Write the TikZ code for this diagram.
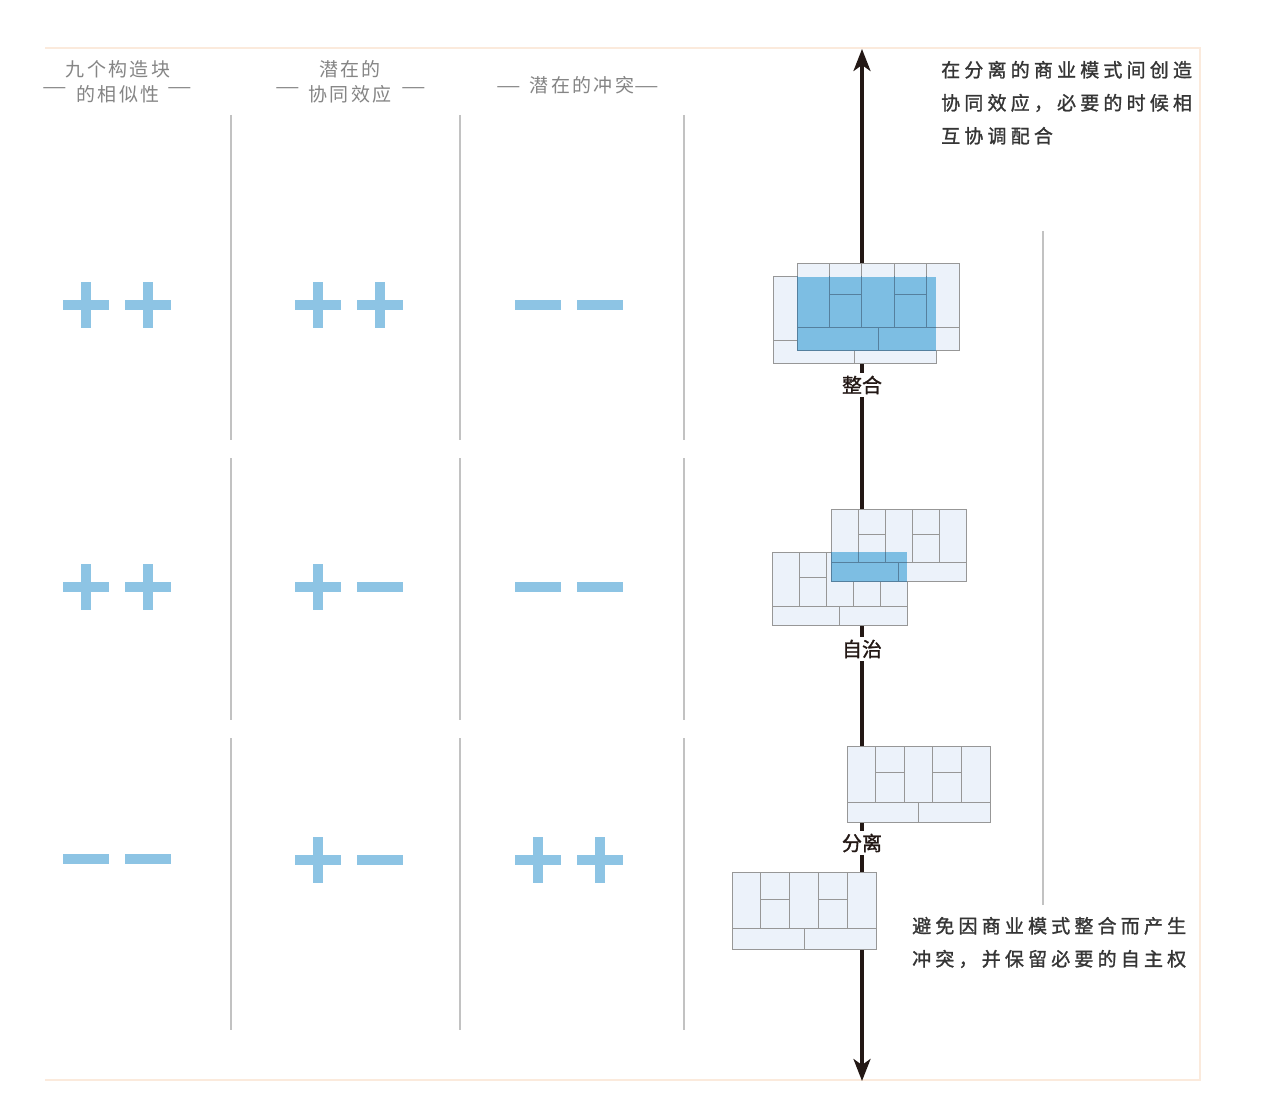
\documentclass[tikz,border=0pt]{standalone}
\usepackage{fontspec}
\setmainfont{Noto Sans CJK SC}
\newfontfamily\headfont[LetterSpace=12]{Noto Sans CJK SC}
\newfontfamily\notefont[LetterSpace=22,FakeBold=1.3]{Noto Sans CJK SC}
\newfontfamily\stagefont[FakeBold=1.3]{Noto Sans CJK SC}
\usetikzlibrary{arrows.meta}

\definecolor{signblue}{HTML}{8DC4E4}
\definecolor{mixblue}{HTML}{7DBEE3}
\definecolor{mixline}{HTML}{55809E}
\definecolor{cvfill}{HTML}{ECF2FA}
\definecolor{cvline}{HTML}{979797}
\definecolor{rulegray}{HTML}{C2C2C2}
\definecolor{framepeach}{HTML}{FBEADC}
\definecolor{ink}{HTML}{231815}
\definecolor{headgray}{HTML}{858585}
\definecolor{notegray}{HTML}{353535}

% one business model canvas: outline, five columns, two split columns, split bottom row
\newcommand\bmgrid[5][]{%
  \begin{scope}[shift={(#2,#3)}, x=#4pt, y=-#5pt, cvgrid, #1]
    \draw (0,0) rectangle (1,1);
    \draw (0,0.74) -- (1,0.74);
    \foreach \c in {0.2,0.4,0.6,0.8} {\draw (\c,0) -- (\c,0.74);}
    \draw (0.2,0.355) -- (0.4,0.355) (0.6,0.355) -- (0.8,0.355);
    \draw (0.5,0.74) -- (0.5,1);
  \end{scope}}
\newcommand\bmcanvas[5]{%
  \node[cvbox, minimum width=#4pt, minimum height=#5pt, anchor=north west] (#1) at (#2,#3) {};
  \bmgrid{#2}{#3}{#4}{#5}}
\newcommand\hdash{\scalebox{1.45}[1]{—}}

\begin{document}
\begin{tikzpicture}[x=1pt, y=-1pt,
  cvbox/.style={rectangle, fill=cvfill, draw=cvline, line width=1pt, inner sep=0pt, outer sep=0pt},
  cvgrid/.style={draw=cvline, line width=1pt},
  sep/.style={draw=rulegray, line width=1.8pt},
  head/.style={inner sep=0pt, text=headgray, font=\headfont\fontsize{19}{19}\selectfont, anchor=base},
  note/.style={inner sep=0pt, text=notegray, font=\notefont\fontsize{19}{19}\selectfont, anchor=base west},
  stage/.style={fill=white, inner sep=2.5pt, text=ink, font=\stagefont\fontsize{20}{20}\selectfont},
  axis/.style={draw=ink, line width=3.4pt, {Stealth[length=22pt,width=17pt,inset=6pt]}-{Stealth[length=22pt,width=17pt,inset=6pt]}},
  psign/.pic={\fill[signblue] (-23,-5) rectangle (23,5); \fill[signblue] (-5,-23) rectangle (5,23);},
  msign/.pic={\fill[signblue] (-23,-5) rectangle (23,5);}
]
\useasboundingbox (0,0) rectangle (1262,1102);
\fill[white] (0,0) rectangle (1262,1102);

% frame
\draw[framepeach, line width=1.5pt] (45,48) -- (1200,48) -- (1200,1080) -- (45,1080);

% column headers
\node[head] (h1a) at (118,77) {九个构造块};
\node[head] (h1b) at (118,102) {的相似性};
\node[head] (h1l) at (55,94) {\hdash};
\node[head] (h1r) at (180,94) {\hdash};
\node[head] (h2a) at (350,77) {潜在的};
\node[head] (h2b) at (350,102) {协同效应};
\node[head] (h2l) at (288,94) {\hdash};
\node[head] (h2r) at (414,94) {\hdash};
\node[head] (h3) at (582,93) {潜在的冲突};
\node[head] (h3l) at (509,93) {\hdash};
\node[head] (h3r) at (647,93) {\hdash};

% column separators
\foreach \x in {231,460,684} {
  \draw[sep] (\x,115) -- (\x,440);
  \draw[sep] (\x,458) -- (\x,720);
  \draw[sep] (\x,738) -- (\x,1030);
}

% signs: similarity, synergy, conflict
\pic at (86,305) {psign};  \pic at (148,305) {psign};
\pic at (318,305) {psign}; \pic at (380,305) {psign};
\pic at (538,305) {msign}; \pic at (600,305) {msign};

\pic at (86,587) {psign};  \pic at (148,587) {psign};
\pic at (318,587) {psign}; \pic at (380,587) {msign};
\pic at (538,587) {msign}; \pic at (600,587) {msign};

\pic at (86,859) {msign};  \pic at (148,859) {msign};
\pic at (318,860) {psign}; \pic at (380,860) {msign};
\pic at (538,860) {psign}; \pic at (600,860) {psign};

% main axis
\coordinate (axtop) at (862,49);
\coordinate (axbot) at (862,1081);
\draw[axis] (axbot) -- (axtop);

% right guide line
\draw[draw=rulegray, line width=1.5pt] (1043,231) -- (1043,905);

% integration: two canvases merged
\bmcanvas{intA}{773}{277}{163}{86}
\bmcanvas{intB}{797}{264}{162}{86}
\fill[mixblue] (797,277) rectangle (936,350);
\begin{scope}
  \clip (797,277) rectangle (936,350);
  \bmgrid[draw=mixline]{797}{264}{162}{86}
\end{scope}
\node[stage] (lint) at (862,385) {整合};

% autonomy: partial overlap
\bmcanvas{autA}{772}{552}{135}{73}
\bmcanvas{autB}{831}{509}{135}{72}
\fill[mixblue] (831,552) rectangle (907,581);
\begin{scope}
  \clip (831,552) rectangle (907,581);
  \bmgrid[draw=mixline]{831}{509}{135}{72}
\end{scope}
\node[stage] (laut) at (862,649) {自治};

% separation: no overlap
\bmcanvas{sepA}{847}{746}{143}{76}
\bmcanvas{sepB}{732}{872}{144}{77}
\node[stage] (lsep) at (862,843) {分离};

% notes
\node[note] (n1) at (941,77) {在分离的商业模式间创造};
\node[note] (n2) at (941,110) {协同效应，必要的时候相};
\node[note] (n3) at (941,143) {互协调配合};
\node[note] (n4) at (912,933) {避免因商业模式整合而产生};
\node[note] (n5) at (912,966) {冲突，并保留必要的自主权};
\end{tikzpicture}
\end{document}
